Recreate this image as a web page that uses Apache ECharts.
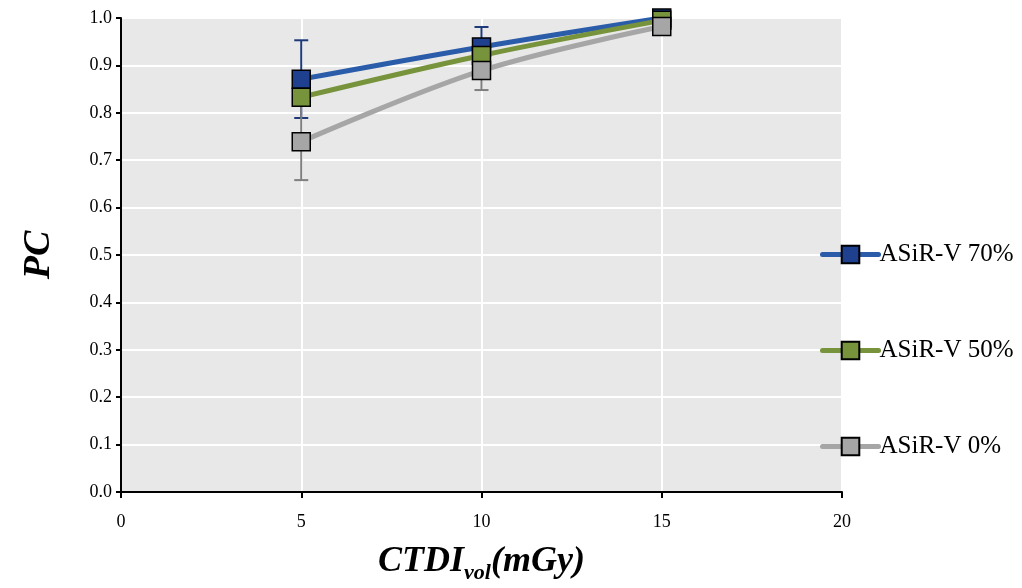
<!DOCTYPE html>
<html><head><meta charset="utf-8">
<script src="https://cdn.jsdelivr.net/npm/echarts@6/dist/echarts.min.js"></script>
<style>html,body{margin:0;padding:0;background:#fff}#c{width:1022px;height:588px}</style>
</head><body><div id="c"></div>
<script>
const doses = [5, 10, 15];
const seriesNames = ['ASiR-V 70%', 'ASiR-V 50%', 'ASiR-V 0%'];
const pc70 = [0.871, 0.939, 1.0];
const pc50 = [0.833, 0.921, 0.995];
const pc0 = [0.739, 0.889, 0.982];
const err70 = [0.082, 0.042, 0];
const err0 = [0.081, 0.041, 0];
const xTicks = [0, 5, 10, 15, 20];
const yTicks = [0, 0.1, 0.2, 0.3, 0.4, 0.5, 0.6, 0.7, 0.8, 0.9, 1.0];

const FONT = '"Liberation Serif", "DejaVu Serif", serif';
const lineColors = ['#2A5CAA', '#77933C', '#A6A6A6'];
const markColors = ['#1F3F8F', '#77933C', '#A6A6A6'];
const errColors = ['#1F3A7A', '#7F7F7F'];

function pairs(vals) { return doses.map((d, i) => [d, vals[i]]); }
function errData(vals, errs) { return doses.map((d, i) => [d, vals[i] - errs[i], vals[i] + errs[i]]); }

function errSeries(vals, errs, color) {
  return {
    type: 'custom', z: 1, silent: true,
    data: errData(vals, errs),
    renderItem: function (params, api) {
      const x = api.value(0);
      const lo = api.coord([x, api.value(1)]);
      const hi = api.coord([x, api.value(2)]);
      const w = 7;
      const st = { stroke: color, lineWidth: 2 };
      return { type: 'group', children: [
        { type: 'line', shape: { x1: lo[0], y1: lo[1], x2: hi[0], y2: hi[1] }, style: st },
        { type: 'line', shape: { x1: lo[0] - w, y1: lo[1], x2: lo[0] + w, y2: lo[1] }, style: st },
        { type: 'line', shape: { x1: hi[0] - w, y1: hi[1], x2: hi[0] + w, y2: hi[1] }, style: st }
      ]};
    }
  };
}

function lineSeries(name, vals, idx) {
  return {
    name: name, type: 'line', data: pairs(vals), smooth: 0.35, z: 2 + idx,
    symbol: 'rect', symbolSize: 18,
    lineStyle: { color: lineColors[idx], width: 5, cap: 'round' },
    itemStyle: { color: markColors[idx], borderColor: '#000', borderWidth: 1.5 },
    emphasis: { disabled: true }
  };
}

const chart = echarts.init(document.getElementById('c'));
chart.setOption({
  backgroundColor: '#fff',
  animation: false,
  grid: { left: 121, right: 180, top: 18, bottom: 96, show: true, backgroundColor: '#E8E8E8', borderWidth: 0,
          containLabel: false, outerBoundsMode: 'none' },
  xAxis: {
    type: 'value', min: xTicks[0], max: xTicks[xTicks.length - 1], interval: 5,
    axisLine: { show: true, onZero: false, lineStyle: { color: '#000', width: 2 } },
    axisTick: { show: true, length: 6, lineStyle: { color: '#000', width: 2 } },
    axisLabel: { color: '#000', fontFamily: FONT, fontSize: 18, margin: 21 },
    splitLine: { show: true, lineStyle: { color: '#fff', width: 2 } },
    name: '{m|CTDI}{s|vol}{m|(mGy)}', nameLocation: 'middle', nameGap: 48,
    nameTextStyle: { rich: {
      m: { fontFamily: FONT, fontSize: 36, fontStyle: 'italic', fontWeight: 'bold', color: '#000', verticalAlign: 'bottom', lineHeight: 40 },
      s: { fontFamily: FONT, fontSize: 22, fontStyle: 'italic', fontWeight: 'bold', color: '#000', verticalAlign: 'bottom', lineHeight: 40, padding: [0, 0, -4, 0] }
    } }
  },
  yAxis: {
    type: 'value', min: yTicks[0], max: yTicks[yTicks.length - 1], interval: 0.1,
    axisLine: { show: true, lineStyle: { color: '#000', width: 2 } },
    axisTick: { show: true, length: 5, lineStyle: { color: '#000', width: 2 } },
    axisLabel: { color: '#000', fontFamily: FONT, fontSize: 18, margin: 9, formatter: v => v.toFixed(1) },
    splitLine: { show: true, lineStyle: { color: '#fff', width: 2 } },
    name: 'PC', nameLocation: 'middle', nameGap: 63,
    nameTextStyle: { fontFamily: FONT, fontSize: 38, fontStyle: 'italic', fontWeight: 'bold', color: '#000' }
  },
  legend: {
    orient: 'vertical', left: 820, top: 242, padding: 0, itemWidth: 56, itemHeight: 22, itemGap: 71,
    data: seriesNames,
    lineStyle: { width: 5, cap: 'round' },
    textStyle: { fontFamily: FONT, fontSize: 25, color: '#000', padding: [0, 0, 0, -4] }
  },
  series: [
    errSeries(pc70, err70, errColors[0]),
    errSeries(pc0, err0, errColors[1]),
    lineSeries(seriesNames[0], pc70, 0),
    lineSeries(seriesNames[1], pc50, 1),
    lineSeries(seriesNames[2], pc0, 2)
  ]
});
</script></body></html>
